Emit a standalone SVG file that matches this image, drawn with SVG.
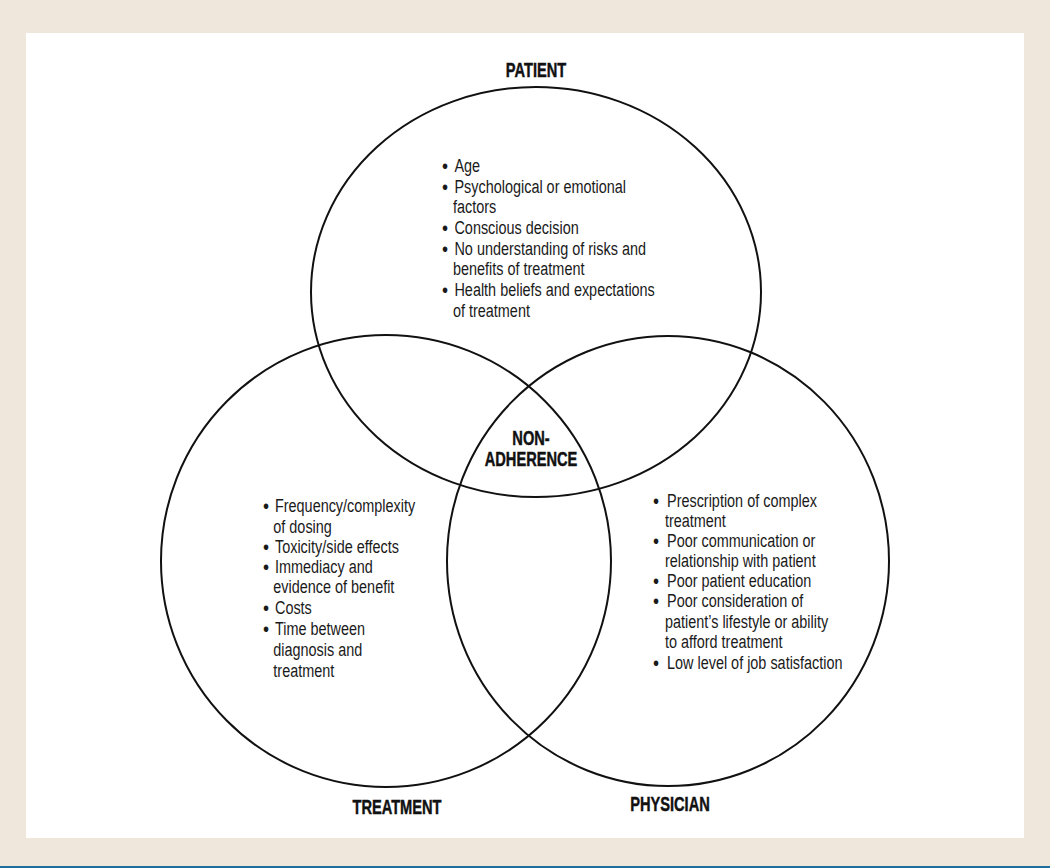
<svg xmlns="http://www.w3.org/2000/svg" width="1050" height="868" viewBox="0 0 1050 868">
<style>
.c{fill:none;stroke:#111;stroke-width:2}
.t{font-family:"Liberation Sans",Arial,sans-serif;font-size:17.6px;fill:#1a1a1a}
.b{font-size:21px}
.h{font-family:"Liberation Sans",Arial,sans-serif;font-size:19.5px;font-weight:bold;fill:#111;stroke:#111;stroke-width:0.45;text-anchor:middle}
</style>
<rect x="0" y="0" width="1050" height="868" fill="#efe7dc"/>
<rect x="26" y="33" width="998" height="805" fill="#ffffff"/>
<rect x="0" y="866" width="1050" height="2" fill="#1f6f9e"/>
<g id="connectors"></g>
<g id="patient">
<ellipse class="c" cx="536" cy="292" rx="225" ry="205"/>
<text class="h" transform="translate(536 77) scale(0.75 1)" x="0" y="0">PATIENT</text>
<text class="t" transform="translate(442 0) scale(0.82 1)"><tspan class="b" x="0" y="173">•</tspan><tspan x="15.2" y="172">Age</tspan><tspan class="b" x="0" y="194">•</tspan><tspan x="15.2" y="193">Psychological or emotional</tspan><tspan x="13.4" y="213">factors</tspan><tspan class="b" x="0" y="235">•</tspan><tspan x="15.2" y="234">Conscious decision</tspan><tspan class="b" x="0" y="256">•</tspan><tspan x="15.2" y="255">No understanding of risks and</tspan><tspan x="13.4" y="275">benefits of treatment</tspan><tspan class="b" x="0" y="297">•</tspan><tspan x="15.2" y="296">Health beliefs and expectations</tspan><tspan x="13.4" y="317">of treatment</tspan></text>
</g>
<g id="treatment">
<ellipse class="c" cx="386" cy="561" rx="225" ry="226"/>
<text class="h" transform="translate(397 814) scale(0.75 1)" x="0" y="0">TREATMENT</text>
<text class="t" transform="translate(263 0) scale(0.82 1)"><tspan class="b" x="0" y="513">•</tspan><tspan x="14.6" y="512">Frequency/complexity</tspan><tspan x="12.6" y="533">of dosing</tspan><tspan class="b" x="0" y="554">•</tspan><tspan x="14.6" y="553">Toxicity/side effects</tspan><tspan class="b" x="0" y="574">•</tspan><tspan x="14.6" y="573">Immediacy and</tspan><tspan x="12.6" y="593">evidence of benefit</tspan><tspan class="b" x="0" y="615">•</tspan><tspan x="14.6" y="614">Costs</tspan><tspan class="b" x="0" y="636">•</tspan><tspan x="14.6" y="635">Time between</tspan><tspan x="12.6" y="656">diagnosis and</tspan><tspan x="12.6" y="677">treatment</tspan></text>
</g>
<g id="physician">
<ellipse class="c" cx="668" cy="561" rx="221" ry="225"/>
<text class="h" transform="translate(670 811) scale(0.75 1)" x="0" y="0">PHYSICIAN</text>
<text class="t" transform="translate(653 0) scale(0.82 1)"><tspan class="b" x="0" y="508">•</tspan><tspan x="17.1" y="507">Prescription of complex</tspan><tspan x="14.6" y="527">treatment</tspan><tspan class="b" x="0" y="548">•</tspan><tspan x="17.1" y="547">Poor communication or</tspan><tspan x="14.6" y="567">relationship with patient</tspan><tspan class="b" x="0" y="588">•</tspan><tspan x="17.1" y="587">Poor patient education</tspan><tspan class="b" x="0" y="608">•</tspan><tspan x="17.1" y="607">Poor consideration of</tspan><tspan x="14.6" y="628">patient’s lifestyle or ability</tspan><tspan x="14.6" y="648">to afford treatment</tspan><tspan class="b" x="0" y="670">•</tspan><tspan x="17.1" y="669">Low level of job satisfaction</tspan></text>
</g>
<g id="nonadherence">
<text class="h" transform="translate(531 445) scale(0.75 1)" x="0" y="0">NON-</text>
<text class="h" transform="translate(531 466) scale(0.75 1)" x="0" y="0">ADHERENCE</text>
</g>
</svg>
